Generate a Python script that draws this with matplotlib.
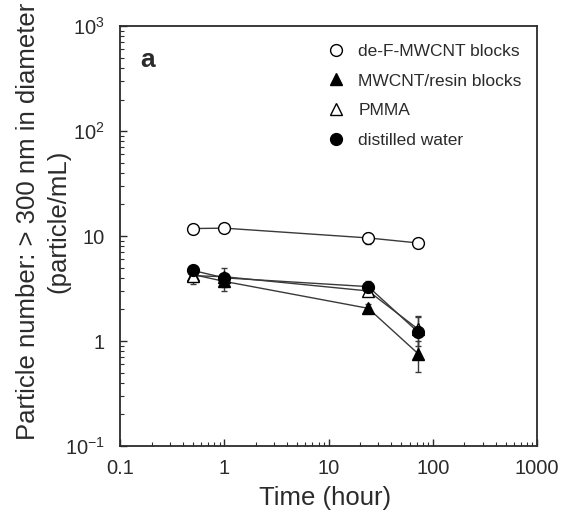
import matplotlib
matplotlib.use("Agg")
import matplotlib.pyplot as plt
from matplotlib.lines import Line2D
from matplotlib.ticker import LogLocator, FixedLocator, FixedFormatter, NullFormatter

plt.rcParams["font.family"] = ["Liberation Sans", "DejaVu Sans"]

# time points (hour)
time_h = [0.5, 1, 24, 72]

# particle number (particle/mL) per treatment
defmwcnt = [11.8, 11.9, 9.6, 8.6]
defmwcnt_err = [0.4, 0.4, 1.2, 0.5]
resin = [4.3, 3.7, 2.05, 0.76]
resin_err = [0.8, 0.4, 0.2, 0.25]
pmma = [4.2, 4.1, 3.0, 1.3]
pmma_err = [0.4, 0.3, 0.3, 0.4]
water = [4.7, 4.0, 3.3, 1.22]
water_err = [0.5, 1.0, 0.4, 0.5]

series = [
    ("de-F-MWCNT blocks", defmwcnt, defmwcnt_err, "o", "white"),
    ("MWCNT/resin blocks", resin, resin_err, "^", "black"),
    ("PMMA", pmma, pmma_err, "^", "white"),
    ("distilled water", water, water_err, "o", "black"),
]

x_ticks = [0.1, 1, 10, 100, 1000]
x_ticklabels = ["0.1", "1", "10", "100", "1000"]
y_ticks = [0.1, 1, 10, 100, 1000]
y_ticklabels = [r"$\mathregular{10^{-1}}$", "1", "10",
                r"$\mathregular{10^{2}}$", r"$\mathregular{10^{3}}$"]

INK = "#2b2b2b"

fig = plt.figure(figsize=(5.75, 5.13), dpi=100)
ax = fig.add_axes([0.209, 0.1306, 0.725, 0.8184])

handles = []
for label, vals, err, mk, fc in series:
    ax.errorbar(time_h, vals, yerr=err, fmt=mk + "-", color="#3a3a3a", lw=1.0,
                mfc=fc, mec="black", ms=8.5, mew=1.0, capsize=2, elinewidth=1.0)
    handles.append(Line2D([], [], ls="none", marker=mk, mfc=fc, mec="black",
                          ms=8.5, mew=1.0, label=label))

ax.set_xscale("log")
ax.set_yscale("log")
ax.set_xlim(0.1, 1000)
ax.set_ylim(0.1, 1000)

ax.xaxis.set_major_locator(FixedLocator(x_ticks))
ax.xaxis.set_major_formatter(FixedFormatter(x_ticklabels))
ax.yaxis.set_major_locator(FixedLocator(y_ticks))
ax.yaxis.set_major_formatter(FixedFormatter(y_ticklabels))
for axis in (ax.xaxis, ax.yaxis):
    axis.set_minor_locator(LogLocator(base=10, subs=range(2, 10)))
    axis.set_minor_formatter(NullFormatter())

ax.tick_params(which="both", direction="in", top=False, right=False,
               labelsize=14.5, colors=INK)
ax.tick_params(axis="x", which="major", pad=9)
ax.tick_params(axis="y", which="major", pad=11)
ax.tick_params(which="major", length=5, width=1)
ax.tick_params(which="minor", length=3, width=0.8)
for s in ax.spines.values():
    s.set_linewidth(1.3)
    s.set_color(INK)

ax.set_xlabel("Time (hour)", fontsize=18.5, color=INK, va="center")
ax.xaxis.set_label_coords(0.492, -0.124)
ax.set_ylabel("Particle number: > 300 nm in diameter\n(particle/mL)", fontsize=18.5,
              color=INK, linespacing=1.3)
ax.yaxis.set_label_coords(-0.12, 0.536)

ax.text(0.047, 0.92, "a", transform=ax.transAxes, fontsize=19, fontweight="bold",
        va="center", ha="left", color=INK)

leg = ax.legend(handles=handles, loc="upper left", bbox_to_anchor=(0.496, 0.958),
                frameon=False, fontsize=12.5, handlelength=1.0, handletextpad=0.8,
                labelspacing=0.83, borderaxespad=0, borderpad=0, numpoints=1)
for t in leg.get_texts():
    t.set_color(INK)

fig.savefig("out.png", dpi=100)
